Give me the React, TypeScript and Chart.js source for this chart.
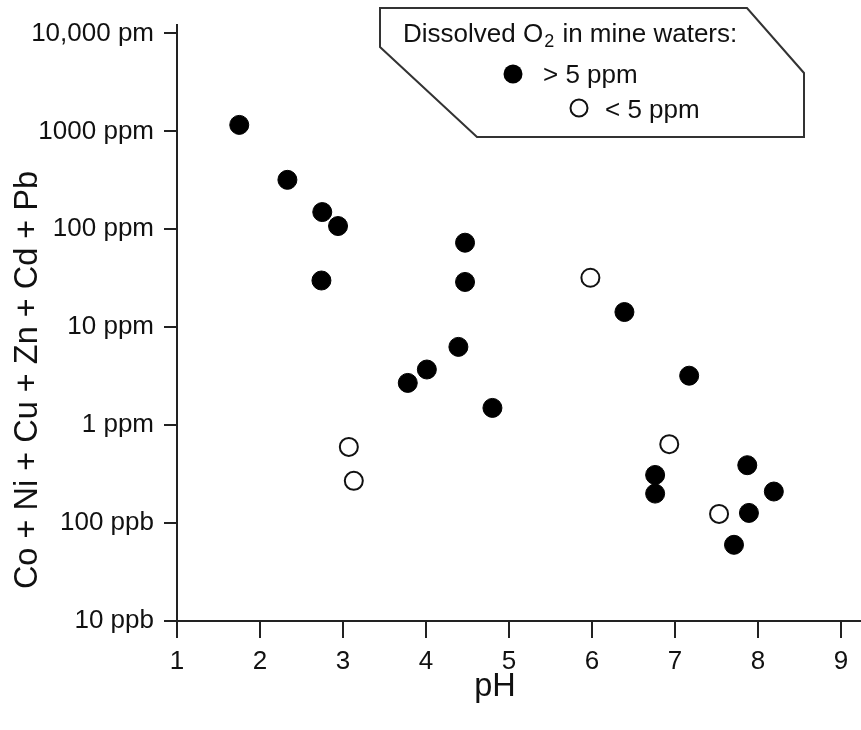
import React, { useEffect, useRef } from "react";
import { Chart, registerables } from "chart.js";

Chart.register(...registerables);

const FONT = '"Liberation Sans", Arial, Helvetica, sans-serif';

// Mine waters with dissolved O2 > 5 ppm
const highO2pH = [1.75, 2.33, 2.75, 2.94, 2.74, 4.47, 4.47, 4.39, 4.01, 3.78, 4.8, 6.39, 7.17, 6.76, 6.76, 7.87, 8.19, 7.89, 7.71];
const highO2Metals = [1165, 320, 150, 108, 30, 73, 29, 6.3, 3.7, 2.7, 1.5, 14.3, 3.2, 0.31, 0.2, 0.39, 0.21, 0.127, 0.06];

// Mine waters with dissolved O2 < 5 ppm
const lowO2pH = [3.07, 3.13, 5.98, 6.93, 7.53];
const lowO2Metals = [0.6, 0.27, 32, 0.64, 0.124];

const xTickValues = [1, 2, 3, 4, 5, 6, 7, 8, 9];
const yTickValues = [0.01, 0.1, 1, 10, 100, 1000, 10000];
const yTickLabels = ["10 ppb", "100 ppb", "1 ppm", "10 ppm", "100 ppm", "1000 ppm", "10,000 pm"];

const xTitle = "pH";
const yTitle = "Co + Ni + Cu + Zn + Cd + Pb";
const legendTitleA = "Dissolved O";
const legendTitleSub = "2";
const legendTitleB = " in mine waters:";
const legendHigh = "> 5 ppm";
const legendLow = "< 5 ppm";

const INK = "#111";
const LINE = "#222";

const decorPlugin = {
  id: "decor",
  afterDraw(chart: any) {
    const ctx = chart.ctx as CanvasRenderingContext2D;
    ctx.save();
    // Axis titles
    ctx.fillStyle = INK;
    ctx.font = `32.5px ${FONT}`;
    ctx.textAlign = "center";
    ctx.textBaseline = "middle";
    ctx.fillText(xTitle, 495, 687);
    ctx.save();
    ctx.translate(28, 380);
    ctx.rotate(-Math.PI / 2);
    ctx.fillText(yTitle, 0, 0);
    ctx.restore();

    // Legend box
    ctx.beginPath();
    ctx.moveTo(380, 8);
    ctx.lineTo(747, 8);
    ctx.lineTo(804, 73);
    ctx.lineTo(804, 137);
    ctx.lineTo(477, 137);
    ctx.lineTo(380, 47);
    ctx.closePath();
    ctx.fillStyle = "#fff";
    ctx.fill();
    ctx.strokeStyle = "#333";
    ctx.lineWidth = 2;
    ctx.stroke();

    // Legend text
    ctx.fillStyle = INK;
    ctx.textAlign = "left";
    ctx.textBaseline = "alphabetic";
    ctx.font = `26px ${FONT}`;
    let x = 403;
    ctx.fillText(legendTitleA, x, 42);
    x += ctx.measureText(legendTitleA).width;
    ctx.font = `18px ${FONT}`;
    ctx.fillText(legendTitleSub, x + 1, 47);
    x += ctx.measureText(legendTitleSub).width + 2;
    ctx.font = `26px ${FONT}`;
    ctx.fillText(legendTitleB, x, 42);

    ctx.fillText(legendHigh, 543, 83);
    ctx.fillText(legendLow, 605, 118);

    // Legend markers
    ctx.beginPath();
    ctx.arc(513, 74, 9.5, 0, Math.PI * 2);
    ctx.fillStyle = "#000";
    ctx.fill();
    ctx.beginPath();
    ctx.arc(579, 108, 8.5, 0, Math.PI * 2);
    ctx.fillStyle = "#fff";
    ctx.fill();
    ctx.strokeStyle = "#111";
    ctx.lineWidth = 2;
    ctx.stroke();
    ctx.restore();
  },
};

export default function App() {
  const ref = useRef<HTMLCanvasElement | null>(null);

  useEffect(() => {
    if (!ref.current) return;
    const chart = new Chart(ref.current, {
      type: "scatter",
      data: {
        datasets: [
          {
            label: legendHigh,
            data: highO2pH.map((x, i) => ({ x, y: highO2Metals[i] })),
            backgroundColor: "#000",
            borderColor: "#000",
            borderWidth: 1,
            pointRadius: 9.5,
            pointHoverRadius: 9.5,
          },
          {
            label: legendLow,
            data: lowO2pH.map((x, i) => ({ x, y: lowO2Metals[i] })),
            backgroundColor: "#fff",
            borderColor: "#111",
            borderWidth: 2,
            pointRadius: 9,
            pointHoverRadius: 9,
          },
        ],
      },
      options: {
        responsive: false,
        animation: false,
        events: [],
        layout: { autoPadding: false, padding: { top: 25, left: 0, right: 0, bottom: 0 } },
        plugins: {
          legend: { display: false },
          tooltip: { enabled: false },
          title: { display: false },
        },
        scales: {
          x: {
            type: "linear",
            min: 1,
            max: 9.24,
            afterBuildTicks: (scale: any) => {
              scale.ticks = xTickValues.map((v) => ({ value: v }));
            },
            afterFit: (scale: any) => {
              scale.height = 109;
              scale.paddingLeft = 0;
              scale.paddingRight = 0;
            },
            ticks: {
              autoSkip: false,
              maxRotation: 0,
              padding: 8,
              color: INK,
              font: { family: FONT, size: 26 },
              callback: (v: any) => String(v),
            },
            grid: {
              drawOnChartArea: false,
              drawTicks: true,
              tickLength: 17,
              color: LINE,
              lineWidth: 2,
            },
            border: { display: true, color: LINE, width: 2 },
          },
          y: {
            type: "logarithmic",
            min: 0.01,
            max: 12200,
            afterBuildTicks: (scale: any) => {
              scale.ticks = yTickValues.map((v) => ({ value: v }));
            },
            afterFit: (scale: any) => {
              scale.width = 177;
              scale.paddingTop = 0;
              scale.paddingBottom = 0;
            },
            ticks: {
              autoSkip: false,
              padding: 10,
              color: INK,
              font: { family: FONT, size: 26 },
              callback: (_v: any, i: number) => yTickLabels[i],
            },
            grid: {
              drawOnChartArea: false,
              drawTicks: true,
              tickLength: 13,
              color: LINE,
              lineWidth: 2,
            },
            border: { display: true, color: LINE, width: 2 },
          },
        },
      },
      plugins: [decorPlugin],
    } as any);
    return () => chart.destroy();
  }, []);

  return (
    <div style={{ position: "fixed", left: 0, top: 0, width: 861, height: 730, background: "#fff" }}>
      <canvas ref={ref} width={861} height={730} style={{ display: "block", width: 861, height: 730 }} />
    </div>
  );
}
